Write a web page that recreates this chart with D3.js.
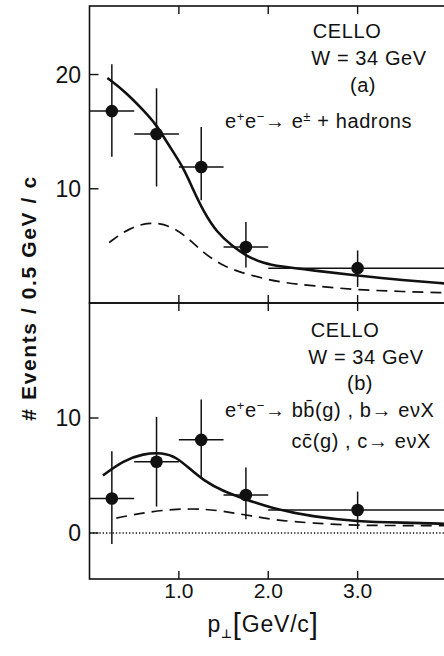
<!DOCTYPE html>
<html>
<head>
<meta charset="utf-8">
<script src="https://cdn.jsdelivr.net/npm/d3@7"></script>
<style>
  body { margin: 0; background: #fff; }
  svg { display: block; }
  text { font-family: "Liberation Sans", Arial, sans-serif; fill: #111; }
</style>
</head>
<body>
<div id="viz-container"></div>
<script>
// data
const binLo = [0, 0.5, 1.0, 1.5, 2.0];
const binHi = [0.5, 1.0, 1.5, 2.0, 4.0];
const ptX   = [0.25, 0.75, 1.25, 1.75, 3.0];

// (a) e+e- -> e± + hadrons
const aVal = [16.8, 14.8, 11.9, 4.9, 3.05];
const aErrHi = [20.9, 18.8, 15.4, 7.1, 4.6];
const aErrLo = [12.8, 10.2, 9.0, 3.1, 1.4];
const aSolidX = [0.2, 0.4, 0.6, 0.75, 0.87, 1.05, 1.16, 1.27, 1.42, 1.61, 1.76, 1.94, 2.13, 2.5, 3.0, 3.5, 4.0];
const aSolidY = [19.7, 18.5, 16.9, 15.6, 14.0, 11.9, 9.9, 8.1, 6.2, 4.9, 4.1, 3.5, 3.2, 2.85, 2.4, 2.0, 1.7];
const aDashX = [0.22, 0.45, 0.68, 0.9, 1.09, 1.27, 1.5, 1.76, 2.13, 2.5, 3.0, 3.5, 4.0];
const aDashY = [5.3, 6.6, 7.1, 6.8, 5.8, 4.4, 3.2, 2.5, 1.8, 1.5, 1.15, 1.0, 0.9];

// (b) b and c semileptonic decays
const bVal = [3.0, 6.2, 8.1, 3.3, 2.0];
const bErrHi = [7.1, 10.1, 11.6, 5.7, 3.6];
const bErrLo = [-0.95, 2.3, 4.9, 1.2, 0.35];
const bSolidX = [0.15, 0.38, 0.6, 0.82, 0.97, 1.12, 1.27, 1.5, 1.76, 2.02, 2.5, 3.0, 3.5, 4.0];
const bSolidY = [5.0, 6.3, 6.9, 7.0, 6.6, 5.6, 4.6, 3.6, 2.9, 2.2, 1.4, 1.0, 0.9, 0.8];
const bDashX = [0.3, 0.56, 0.93, 1.31, 1.57, 1.8, 2.1, 2.5, 3.0, 3.5, 4.0];
const bDashY = [1.3, 1.7, 2.1, 2.1, 1.8, 1.5, 1.1, 0.85, 0.65, 0.65, 0.65];

const xTicks = [1, 2, 3];
const xTickLabels = ["1.0", "2.0", "3.0"];
const aYTicks = [10, 20];
const bYTicks = [0, 10];

const width = 444, height = 656;
const svg = d3.select('#viz-container').append('svg')
  .attr('width', width).attr('height', height);

const x = d3.scaleLinear().domain([0, 4]).range([89.5, 447]);
const yA = d3.scaleLinear().domain([0, 26]).range([303, 6]);
const yB = d3.scaleLinear().domain([-4, 20]).range([579, 303]);

const ink = '#111';

const drawPanel = (y, vals, hi, lo, sX, sY, dX, dY, yTicks) => {
  const g = svg.append('g');
  const [y0, y1] = y.range();

  // frame
  g.append('rect')
    .attr('x', x(0)).attr('y', y1)
    .attr('width', x(4) - x(0)).attr('height', y0 - y1)
    .attr('fill', 'none').attr('stroke', ink).attr('stroke-width', 1.6);

  // x ticks, top and bottom of each panel
  xTicks.forEach(t => {
    g.append('line').attr('x1', x(t)).attr('x2', x(t))
      .attr('y1', y1).attr('y2', y1 + 8).attr('stroke', ink).attr('stroke-width', 1.4);
    g.append('line').attr('x1', x(t)).attr('x2', x(t))
      .attr('y1', y0).attr('y2', y0 - 8).attr('stroke', ink).attr('stroke-width', 1.4);
  });

  // y ticks and labels
  yTicks.forEach(t => {
    g.append('line').attr('x1', x(0)).attr('x2', x(0) + 9)
      .attr('y1', y(t)).attr('y2', y(t)).attr('stroke', ink).attr('stroke-width', 1.4);
    g.append('text').attr('x', 81).attr('y', y(t) + 8)
      .attr('text-anchor', 'end').attr('font-size', 23)
      .text(t);
  });

  const line = d3.line().x(d => x(d[0])).y(d => y(d[1])).curve(d3.curveBasis);

  g.append('path').datum(d3.zip(sX, sY)).attr('d', line)
    .attr('fill', 'none').attr('stroke', ink).attr('stroke-width', 2.6);
  g.append('path').datum(d3.zip(dX, dY)).attr('d', line)
    .attr('fill', 'none').attr('stroke', ink).attr('stroke-width', 1.7)
    .attr('stroke-dasharray', '11 7');

  // error bars + points
  ptX.forEach((px, i) => {
    g.append('line').attr('x1', x(binLo[i])).attr('x2', x(binHi[i]))
      .attr('y1', y(vals[i])).attr('y2', y(vals[i])).attr('stroke', ink).attr('stroke-width', 1.5);
    g.append('line').attr('x1', x(px)).attr('x2', x(px))
      .attr('y1', y(hi[i])).attr('y2', y(lo[i])).attr('stroke', ink).attr('stroke-width', 1.5);
    g.append('circle').attr('cx', x(px)).attr('cy', y(vals[i])).attr('r', 6.3).attr('fill', ink);
  });
  return g;
};

drawPanel(yA, aVal, aErrHi, aErrLo, aSolidX, aSolidY, aDashX, aDashY, aYTicks);
const gB = drawPanel(yB, bVal, bErrHi, bErrLo, bSolidX, bSolidY, bDashX, bDashY, bYTicks);

// zero line in (b)
gB.append('line').attr('x1', x(0)).attr('x2', x(4))
  .attr('y1', yB(0)).attr('y2', yB(0))
  .attr('stroke', ink).attr('stroke-width', 1.3).attr('stroke-dasharray', '1.3 2');

// x tick labels
xTicks.forEach((t, i) => {
  svg.append('text').attr('x', x(t)).attr('y', 598)
    .attr('text-anchor', 'middle').attr('font-size', 21).text(xTickLabels[i]);
});

// x label
const xl = svg.append('text').attr('x', 263).attr('y', 632)
  .attr('text-anchor', 'middle').attr('font-size', 23).attr('letter-spacing', 0.8);
xl.append('tspan').text('p');
xl.append('tspan').attr('font-size', 12).attr('dy', 6).attr('font-weight', 'bold')
  .style('font-family', '"DejaVu Sans", sans-serif').style('fill', ink).text('⊥');
xl.append('tspan').attr('dy', -4).attr('font-size', 29).text('[');
xl.append('tspan').attr('dy', -2).text('GeV/c');
xl.append('tspan').attr('dy', 2).attr('font-size', 29).text(']');

// y label
svg.append('text')
  .attr('transform', 'translate(36,298) rotate(-90)')
  .attr('text-anchor', 'middle').attr('font-size', 21).attr('font-weight', 'bold')
  .attr('letter-spacing', 1.6)
  .text('# Events / 0.5 GeV / c');

// annotations
const note = (tx, ty, s, anchor) => svg.append('text').attr('x', tx).attr('y', ty)
  .attr('text-anchor', anchor || 'middle').attr('font-size', 20)
  .attr('letter-spacing', 0.6).text(s);

note(347, 38, 'CELLO');
note(369, 65, 'W = 34 GeV');
note(363, 92, '(a)');
const ta = note(225, 128, '', 'start');
ta.append('tspan').text('e');
ta.append('tspan').attr('font-size', 13).attr('dy', -7).text('+');
ta.append('tspan').attr('dy', 7).text('e');
ta.append('tspan').attr('font-size', 13).attr('dy', -7).text('−');
ta.append('tspan').attr('dy', 7).text('→ e');
ta.append('tspan').attr('font-size', 13).attr('dy', -7).text('±');
ta.append('tspan').attr('dy', 7).text(' + hadrons');

note(345, 337, 'CELLO');
note(366, 364, 'W = 34 GeV');
note(360, 390, '(b)');
const tb = note(225, 417, '', 'start');
tb.append('tspan').text('e');
tb.append('tspan').attr('font-size', 13).attr('dy', -7).text('+');
tb.append('tspan').attr('dy', 7).text('e');
tb.append('tspan').attr('font-size', 13).attr('dy', -7).text('−');
tb.append('tspan').attr('dy', 7).text('→ bb̄(g) , b→ eνX');
note(431, 448, 'cc̄(g) , c→ eνX', 'end');
</script>
</body>
</html>
